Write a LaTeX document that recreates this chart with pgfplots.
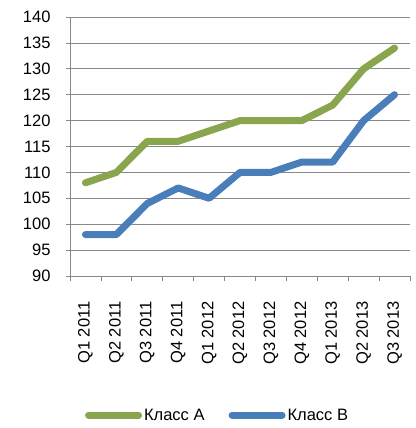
\documentclass[border=0pt]{standalone}
\usepackage{fontspec}
\setmainfont{Liberation Sans}
\usepackage{pgfplots}
\pgfplotsset{compat=1.18}
\definecolor{cgreen}{HTML}{89A54E}
\definecolor{cblue}{HTML}{4A7EBB}
\definecolor{cgrid}{HTML}{888888}
\begin{document}
\begin{tikzpicture}
\begin{axis}[
  scale only axis,
  width=340pt, height=259pt,
  xmin=-0.5, xmax=10.5,
  ymin=90, ymax=140,
  ytick={90,95,...,140},
  xtick={0,...,10},
  xticklabels={Q1 2011,Q2 2011,Q3 2011,Q4 2011,Q1 2012,Q2 2012,Q3 2012,Q4 2012,Q1 2013,Q2 2013,Q3 2013},
  minor xtick={-0.5,0.5,...,10.5},
  axis x line*=bottom, axis y line*=left,
  axis line style={cgrid, line width=0.8pt},
  tick align=outside,
  major x tick style={draw=none},
  minor x tick style={cgrid, line width=0.8pt},
  minor tick length=5pt,
  major tick length=4pt,
  y tick style={cgrid, line width=0.8pt},
  ymajorgrids,
  grid style={cgrid, line width=0.8pt},
  /pgf/number format/assume math mode=true,
  tick label style={font=\fontsize{16.5}{18}\selectfont, black},
  yticklabel style={xshift=-12pt},
  xticklabel style={rotate=90, anchor=east, xshift=-18pt},
  legend style={draw=none, at={(0.434,-0.537)}, anchor=center, font=\fontsize{16.5}{18}\selectfont,
    /tikz/every even column/.append style={column sep=22pt}},
  legend columns=2,
  legend image code/.code={\draw[#1, line width=7pt, line cap=round] (0pt,0pt) -- (50pt,0pt);},
]
\addplot[cgreen, line width=7pt, line join=round, line cap=round] coordinates {
(0,108) (1,110) (2,116) (3,116) (4,118) (5,120) (6,120) (7,120) (8,123) (9,130) (10,134)};
\addplot[cblue, line width=7pt, line join=round, line cap=round] coordinates {
(0,98) (1,98) (2,104) (3,107) (4,105) (5,110) (6,110) (7,112) (8,112) (9,120) (10,125)};
\legend{Класс A, Класс B}
\end{axis}
\path (0,0) ++(-70pt,-152pt) rectangle ++(415pt,428pt);
\end{tikzpicture}
\end{document}
